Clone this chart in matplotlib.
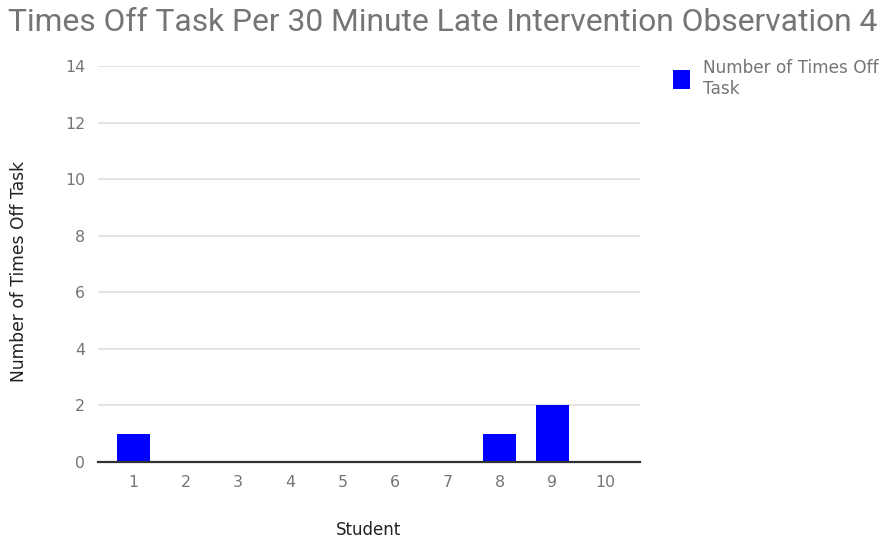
import matplotlib
matplotlib.use("Agg")
import matplotlib.pyplot as plt

students = [1, 2, 3, 4, 5, 6, 7, 8, 9, 10]
times_off = [1, 0, 0, 0, 0, 0, 0, 1, 2, 0]
y_ticks = [0, 2, 4, 6, 8, 10, 12, 14]

plt.rcParams["font.family"] = ["DejaVu Sans"]

fig = plt.figure(figsize=(8.87, 5.41), dpi=100)
ax = fig.add_axes([0.110, 0.146, 0.612, 0.732])

ax.bar(students, times_off, width=0.63, color="#0000ff", zorder=3,
       label="Number of Times Off\nTask")

ax.set_xlim(0.32, 10.68)
ax.set_ylim(0, 14)
ax.set_yticks(y_ticks)
ax.set_xticks(students)
ax.grid(axis="y", color="#e0e0e0", lw=1.3, zorder=0)
for s in ("top", "right", "left"):
    ax.spines[s].set_visible(False)
ax.spines["bottom"].set_color("#333333")
ax.spines["bottom"].set_linewidth(1.6)
ax.spines["bottom"].set_zorder(4)
ax.tick_params(axis="both", length=0, labelsize=11.3, labelcolor="#757575")
ax.tick_params(axis="y", pad=9)
ax.tick_params(axis="x", pad=9)

ax.set_xlabel("Student", fontsize=12, color="#222222", labelpad=23)
ax.set_ylabel("Number of Times Off Task", fontsize=12.3, color="#222222")
ax.yaxis.set_label_coords(-0.128, 0.48)

fig.text(0.009, 0.942, "Times Off Task Per 30 Minute Late Intervention Observation 4",
         fontsize=22.9, color="#757575", ha="left", va="baseline", family="Roboto")

ax.legend(loc="upper left", bbox_to_anchor=(1.047, 1.035), frameon=False,
          fontsize=12.2, labelcolor="#757575", handlelength=1.05, handleheight=1.3,
          handletextpad=0.75, borderaxespad=0, labelspacing=0)

fig.savefig("out.png", dpi=100)
